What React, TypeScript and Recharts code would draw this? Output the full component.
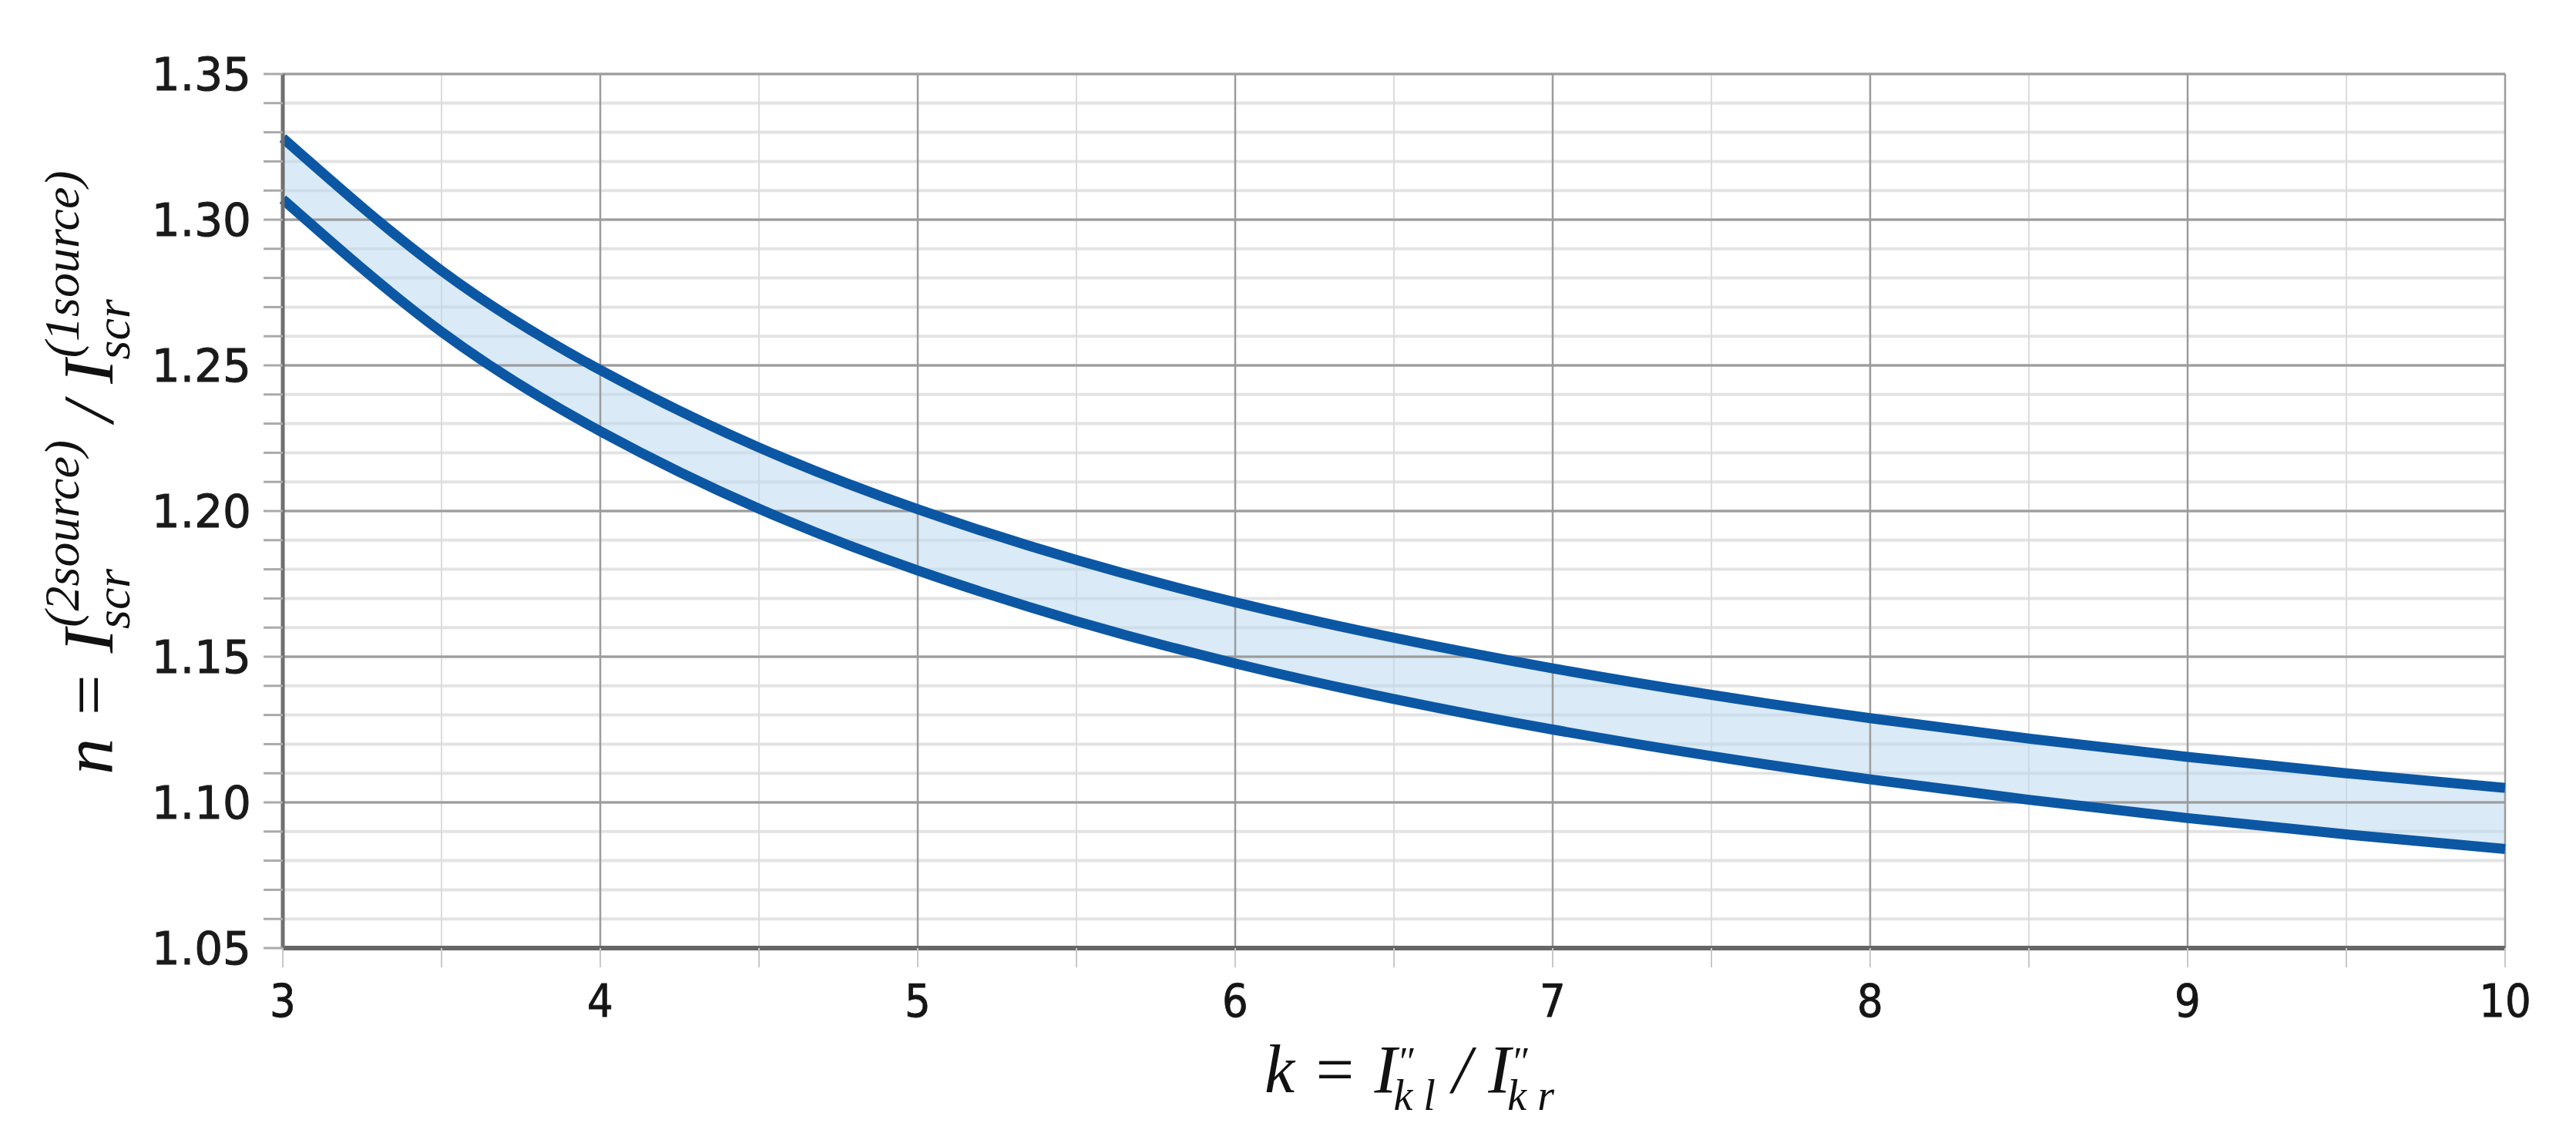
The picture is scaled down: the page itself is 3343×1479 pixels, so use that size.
import {
  Area,
  CartesianGrid,
  ComposedChart,
  Line,
  ReferenceLine,
  XAxis,
  YAxis,
} from "recharts";

// k = I''kl / I''kr
const K = [3, 3.5, 4, 4.5, 5, 5.5, 6, 6.5, 7, 7.5, 8, 8.5, 9, 9.5, 10];
const UPPER = [
  1.328, 1.2825, 1.2484, 1.2218, 1.2006, 1.1832, 1.1687, 1.1565, 1.146,
  1.1369, 1.1289, 1.1219, 1.1156, 1.11, 1.105,
];
const LOWER = [
  1.307, 1.2615, 1.2274, 1.2008, 1.1796, 1.1622, 1.1477, 1.1355, 1.125,
  1.1159, 1.1079, 1.1009, 1.0946, 1.089, 1.084,
];

const X_LABELS = [3, 4, 5, 6, 7, 8, 9, 10];
const Y_LABELS = [1.05, 1.1, 1.15, 1.2, 1.25, 1.3, 1.35];

const LINE = "#0b57a4";
const MAJOR = "#9c9c9c";
const MINOR = "#e3e3e3";

const data = K.map((k, i) => ({
  k,
  upper: UPPER[i],
  lower: LOWER[i],
  band: [LOWER[i], UPPER[i]],
}));

// minor ticks: every 0.5 on x, every 0.01 on y
const xTicks: number[] = [];
for (let v = 3; v <= 10.001; v += 0.5) xTicks.push(+v.toFixed(1));
const yTicks: number[] = [];
for (let i = 0; i <= 30; i++) yTicks.push(+(1.05 + i * 0.01).toFixed(2));

const isMajor = (list: number[], v: number) =>
  list.some((m) => Math.abs(m - v) < 1e-6);

function YTitle(props: any) {
  const vb = props.viewBox || { x: 0, y: 96, width: 367, height: 1134 };
  const cx = vb.x + 146;
  const cy = vb.y + vb.height / 2 - 50;
  return (
    <text
      transform={`translate(${cx}, ${cy}) rotate(-90)`}
      textAnchor="middle"
      fontFamily="'Liberation Serif', 'Times New Roman', serif"
      fontStyle="italic"
      fontSize={94}
      fill="#111"
      style={{ whiteSpace: "pre" }}
    >
      <tspan>n = I</tspan>
      <tspan dy={22} fontSize={64}>scr</tspan>
      <tspan dx={-76} dy={-66} fontSize={64}>(2source)</tspan>
      <tspan dy={44}> / I</tspan>
      <tspan dy={22} fontSize={64}>scr</tspan>
      <tspan dx={-76} dy={-66} fontSize={64}>(1source)</tspan>
    </text>
  );
}

function XTitle(props: any) {
  const vb = props.viewBox || { x: 367, y: 1230, width: 2884, height: 249 };
  const cx = vb.x + vb.width / 2 + 20;
  const cy = vb.y + 187;
  return (
    <text
      x={cx}
      y={cy}
      textAnchor="middle"
      fontFamily="'Liberation Serif', 'Times New Roman', serif"
      fontStyle="italic"
      fontSize={88}
      fill="#111"
      style={{ whiteSpace: "pre" }}
    >
      <tspan>k = I</tspan>
      <tspan dy={-22} fontSize={52}>″</tspan>
      <tspan dx={-26} dy={45} fontSize={56}>k l</tspan>
      <tspan dy={-23}> / I</tspan>
      <tspan dy={-22} fontSize={52}>″</tspan>
      <tspan dx={-26} dy={45} fontSize={56}>k r</tspan>
    </text>
  );
}

export default function App() {
  return (
    <div
      style={{
        position: "absolute",
        left: 0,
        top: 0,
        width: 3343,
        height: 1479,
        background: "#fff",
      }}
    >
      <ComposedChart
        width={3343}
        height={1479}
        data={data}
        margin={{ top: 96, right: 92, bottom: 0, left: 0 }}
      >
        <CartesianGrid vertical={false} stroke={MINOR} strokeWidth={4} />
        <CartesianGrid horizontal={false} stroke="#dcdcdc" strokeWidth={2} />
        <XAxis
          dataKey="k"
          type="number"
          domain={[3, 10]}
          ticks={xTicks}
          interval={0}
          height={249}
          tickSize={25}
          tickMargin={22}
          tickLine={{ stroke: "#c8c8c8", strokeWidth: 2 }}
          axisLine={{ stroke: "#666", strokeWidth: 6 }}
          tick={{
            fill: "#151515",
            stroke: "#151515",
            strokeWidth: 0.8,
            fontSize: 59,
            fontFamily: "'DejaVu Sans Condensed', 'DejaVu Sans'",
          }}
          tickFormatter={(v: number) => (isMajor(X_LABELS, v) ? String(v) : "")}
          label={<XTitle />}
        />
        <YAxis
          type="number"
          domain={[1.05, 1.35]}
          ticks={yTicks}
          interval={0}
          width={367}
          tickSize={25}
          tickMargin={16}
          tickLine={{ stroke: "#aaa", strokeWidth: 3 }}
          axisLine={{ stroke: "#6f6f6f", strokeWidth: 5 }}
          tick={{
            fill: "#1a1a1a",
            stroke: "#1a1a1a",
            strokeWidth: 1,
            fontSize: 58,
            fontFamily: "'DejaVu Sans'",
          }}
          tickFormatter={(v: number) =>
            isMajor(Y_LABELS, v) ? v.toFixed(2) : ""
          }
          label={<YTitle />}
        />
        <Area
          dataKey="band"
          type="natural"
          stroke="none"
          fill="#bcd8ee"
          fillOpacity={0.55}
          isAnimationActive={false}
        />
        {Y_LABELS.map((y) => (
          <ReferenceLine key={"y" + y} y={y} stroke={MAJOR} strokeWidth={3} />
        ))}
        {X_LABELS.map((x) => (
          <ReferenceLine key={"x" + x} x={x} stroke={MAJOR} strokeWidth={2.5} />
        ))}
        <Line
          dataKey="upper"
          type="natural"
          stroke={LINE}
          strokeWidth={13}
          dot={false}
          activeDot={false}
          isAnimationActive={false}
        />
        <Line
          dataKey="lower"
          type="natural"
          stroke={LINE}
          strokeWidth={13}
          dot={false}
          activeDot={false}
          isAnimationActive={false}
        />
      </ComposedChart>
    </div>
  );
}
